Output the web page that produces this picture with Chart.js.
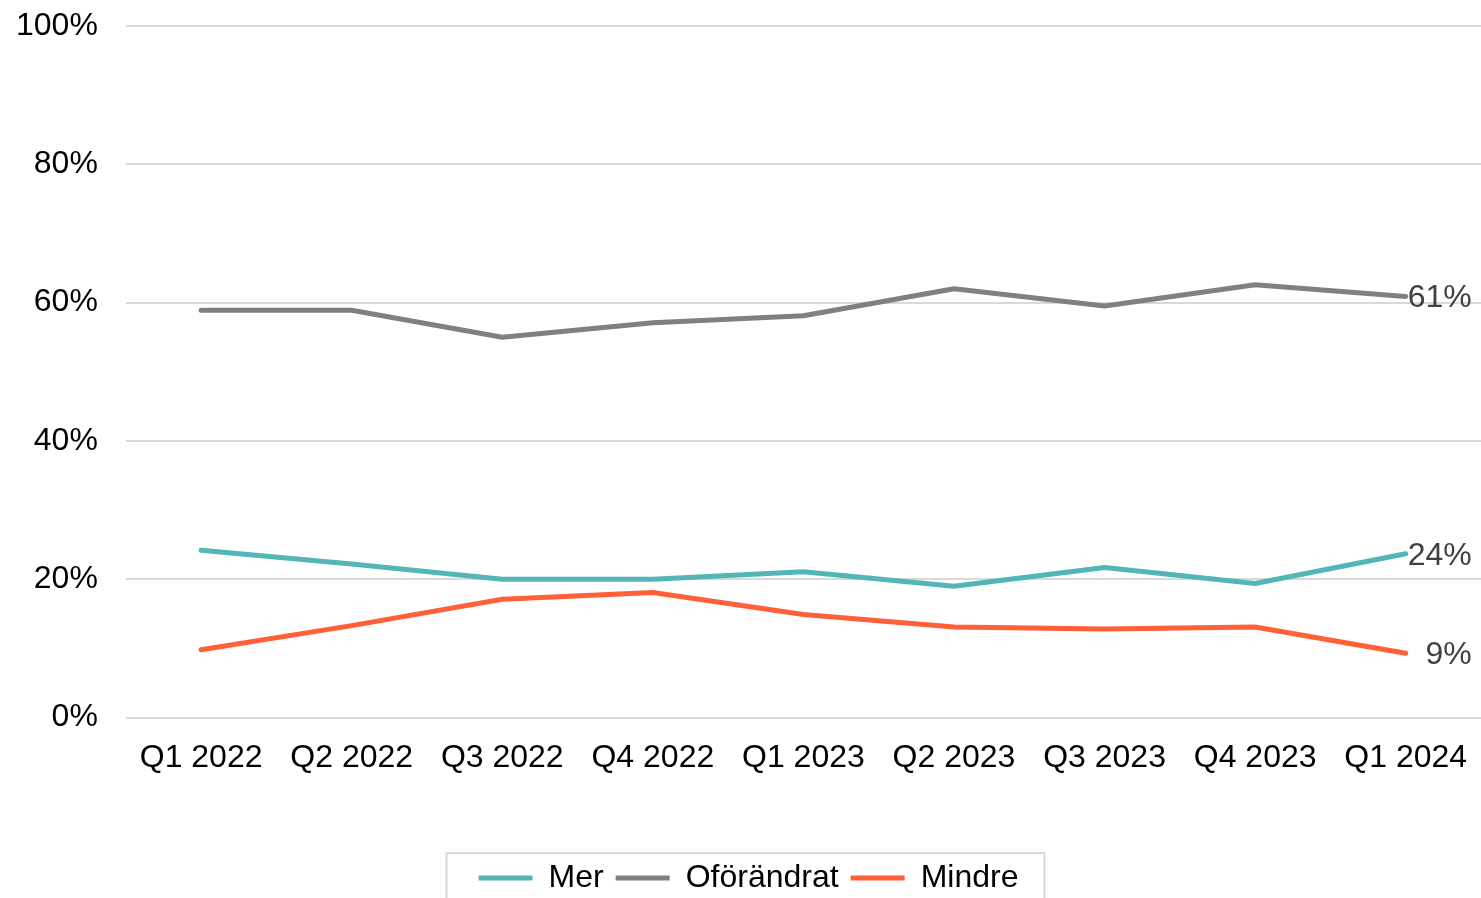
<!DOCTYPE html>
<html>
<head>
<meta charset="utf-8">
<script src="https://cdn.jsdelivr.net/npm/chart.js@4/dist/chart.umd.min.js"></script>
<style>
  html, body { margin: 0; padding: 0; background: #fff; }
  #wrap { width: 1481px; height: 898px; }
</style>
</head>
<body>
<div id="wrap"><canvas id="myChart" width="1481" height="898"></canvas></div>
<script>
const labels = ["Q1 2022", "Q2 2022", "Q3 2022", "Q4 2022", "Q1 2023", "Q2 2023", "Q3 2023", "Q4 2023", "Q1 2024"];
const mer = [24.2, 22.2, 20, 20, 21.1, 19, 21.7, 19.4, 23.7];
const oforandrat = [58.9, 58.9, 55, 57.1, 58.1, 62, 59.5, 62.6, 60.9];
const mindre = [9.8, 13.3, 17.1, 18.1, 14.9, 13.1, 12.8, 13.1, 9.3];
const yTicks = [0, 20, 40, 60, 80, 100];

const FONT = "'Liberation Sans', Arial, sans-serif";
const SIZE = 32;

// end-of-line value labels
const endLabels = {
  id: "endLabels",
  afterDatasetsDraw(chart) {
    const ctx = chart.ctx;
    ctx.save();
    ctx.font = SIZE + "px " + FONT;
    ctx.fillStyle = "#404040";
    ctx.textAlign = "right";
    ctx.textBaseline = "middle";
    chart.data.datasets.forEach((ds, i) => {
      const pts = chart.getDatasetMeta(i).data;
      const last = pts[pts.length - 1];
      const v = ds.data[ds.data.length - 1];
      ctx.fillText(Math.round(v) + "%", last.x + 66, last.y + 2);
    });
    ctx.restore();
  }
};

// border round the legend
const legendBox = {
  id: "legendBox",
  afterDraw(chart) {
    const boxes = chart.legend.legendHitBoxes;
    if (!boxes || !boxes.length) return;
    const left = Math.min(...boxes.map(b => b.left)) - 32;
    const right = Math.max(...boxes.map(b => b.left + b.width)) + 26;
    const top = boxes[0].top - 9;
    const ctx = chart.ctx;
    ctx.save();
    ctx.strokeStyle = "#d9d9d9";
    ctx.lineWidth = 2;
    ctx.strokeRect(left, top, right - left, chart.height - top + 20);
    ctx.restore();
  }
};

const lineStyle = { borderWidth: 5, borderCapStyle: "round", borderJoinStyle: "round", pointRadius: 0, pointHoverRadius: 0, tension: 0 };

const ctx = document.getElementById("myChart").getContext("2d");
const myChart = new Chart(ctx, {
  type: "line",
  data: {
    labels,
    datasets: [
      { label: "Mer", data: mer, borderColor: "#52b5b7", backgroundColor: "#52b5b7", ...lineStyle },
      { label: "Oförändrat", data: oforandrat, borderColor: "#808080", backgroundColor: "#808080", ...lineStyle },
      { label: "Mindre", data: mindre, borderColor: "#ff6038", backgroundColor: "#ff6038", ...lineStyle },
    ],
  },
  options: {
    responsive: false,
    animation: false,
    devicePixelRatio: 1,
    layout: { padding: { left: 16, right: 0, top: 26, bottom: -6 } },
    plugins: {
      tooltip: { enabled: false },
      legend: {
        position: "bottom",
        labels: {
          usePointStyle: true,
          pointStyle: "line",
          pointStyleWidth: 54,
          color: "#000",
          font: { family: FONT, size: SIZE },
          padding: 12,
        },
      },
    },
    scales: {
      x: {
        offset: true,
        grid: { color: "transparent", drawTicks: true, tickLength: 21, tickColor: "transparent" },
        border: { display: false },
        ticks: { color: "#000", font: { family: FONT, size: SIZE }, padding: 0, maxRotation: 0 },
        afterFit: (scale) => { scale.height += 73; },
      },
      y: {
        min: 0,
        max: 100,
        afterBuildTicks: (scale) => { scale.ticks = yTicks.map(v => ({ value: v })); },
        grid: { color: "#d9d9d9", lineWidth: 2, drawTicks: true, tickLength: 28, tickColor: "transparent" },
        border: { display: false },
        ticks: { color: "#000", font: { family: FONT, size: SIZE }, padding: 0, callback: (v) => v + "%" },
      },
    },
  },
  plugins: [endLabels, legendBox],
});
</script>
</body>
</html>
